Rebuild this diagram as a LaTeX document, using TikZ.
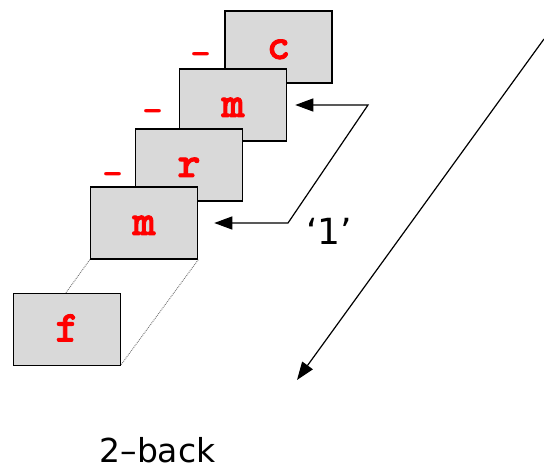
\documentclass[tikz,border=0pt]{standalone}
\usepackage{fontspec}
\setmainfont{DejaVu Sans}
\newfontfamily\courish[FakeBold=2]{lmmonolt10-bold.otf}
\usetikzlibrary{arrows.meta}
\definecolor{boxgray}{RGB}{217,217,217}
\definecolor{letterred}{RGB}{255,0,0}
\begin{document}
\begin{tikzpicture}[x=1pt,y=1pt,
  card/.style={draw=black, line width=1.5pt, fill=boxgray, minimum width=107pt, minimum height=72pt,
    inner sep=0pt, text height=24pt, text depth=0pt, text=letterred,
    font=\courish\fontsize{44}{44}\selectfont},
  blank/.style={text=letterred, inner sep=0pt, font=\ttfamily\bfseries\fontsize{40}{40}\selectfont},
  link/.style={draw=black, line width=1.2pt},
  tip/.style={-{Triangle[length=18pt,width=13pt]}},
  guide/.style={draw=black!55, line width=0.9pt, densely dotted}]
\useasboundingbox (0,0) rectangle (544,472);
% cards, back to front
\node[card] (c) at (278.5,425) {c};
\node[card] (m1) at (233,367) {m};
\node[card] (r) at (189,307) {r};
\node[card] (m2) at (144,249) {m};
% dotted guides behind f
\draw[guide] (m2.south west) -- (13.5,106.5) coordinate (fsw);
\draw[guide] (m2.south east) -- (120.5,106.5) coordinate (fse);
\node[card] (f) at (67,142.5) {f};
% blanks
\node[blank, anchor=base] (b1) at ([xshift=-23pt,yshift=-3pt]c.west) {\_};
\node[blank, anchor=base] (b2) at ([xshift=-26pt,yshift=-2pt]m1.west) {\_};
\node[blank, anchor=base] (b3) at ([xshift=-22pt,yshift=-5pt]r.west) {\_};
% '1' connector
\coordinate (bend1) at (368,367);
\coordinate (bend2) at (288,249);
\draw[link, {Triangle[length=18pt,width=13pt]}-{Triangle[length=18pt,width=13pt]}, shorten <=8pt, shorten >=16pt]
  (m1.east) -- (bend1) -- (bend2) -- (m2.east);
\node[anchor=base, font=\fontsize{36}{36}\selectfont, inner sep=0pt] (one) at (329,227) {‘1’};
% big diagonal arrow
\coordinate (start) at (544,433);
\coordinate (end) at (297,92);
\draw[link, tip] (start) -- (end);
% caption
\node[anchor=base, font=\fontsize{33}{33}\selectfont, inner sep=0pt] (cap) at (157.5,10) {2–back};
\end{tikzpicture}
\end{document}
